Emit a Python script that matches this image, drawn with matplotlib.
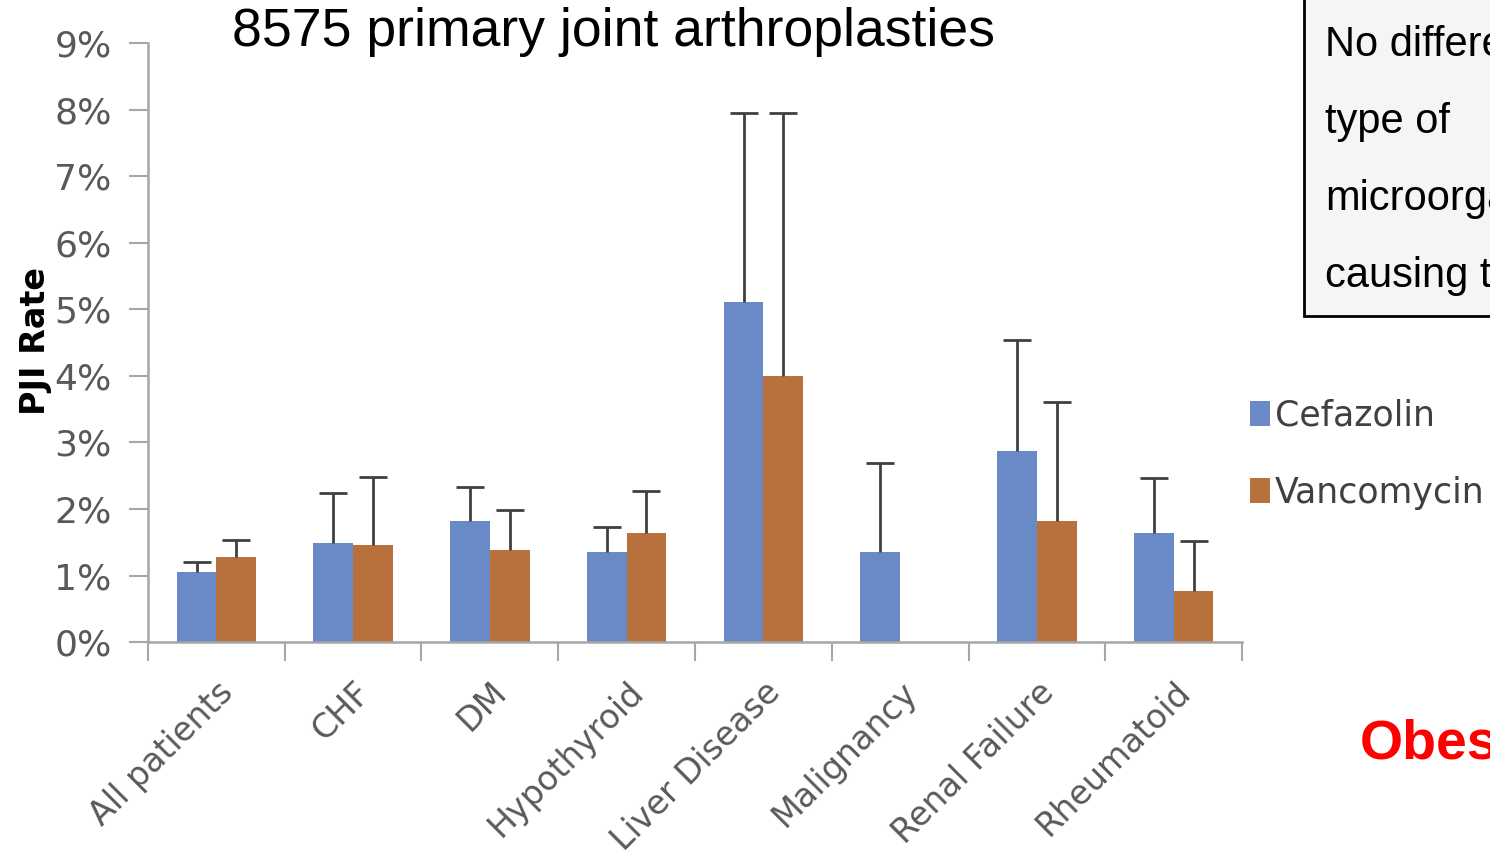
import numpy as np
import matplotlib
matplotlib.use("Agg")
import matplotlib.pyplot as plt
from matplotlib.patches import Rectangle

categories = ["All patients", "CHF", "DM", "Hypothyroid", "Liver Disease",
              "Malignancy", "Renal Failure", "Rheumatoid"]
cefazolin = [1.05, 1.49, 1.82, 1.35, 5.11, 1.35, 2.87, 1.64]
cefazolin_err_top = [1.20, 2.24, 2.33, 1.73, 7.95, 2.69, 4.54, 2.46]
vancomycin = [1.28, 1.46, 1.38, 1.64, 4.00, np.nan, 1.82, 0.77]
vancomycin_err_top = [1.53, 2.48, 1.98, 2.27, 7.95, np.nan, 3.61, 1.52]
yticks = list(range(0, 10))

blue = "#6a8ac7"
orange = "#b8703c"
grey_txt = "#595959"

fig = plt.figure(figsize=(14.9, 8.55), dpi=100)
ax = fig.add_axes([0.0993, 0.249, 0.7343, 0.7007])

x = np.arange(len(categories))
w = 0.29
cef = np.array(cefazolin)
van = np.array(vancomycin)
cef_up = np.array(cefazolin_err_top) - cef
van_up = np.array(vancomycin_err_top) - van

ax.bar(x - w / 2, cef, w, color=blue, label="Cefazolin")
ax.bar(x + w / 2, van, w, color=orange, label="Vancomycin")
for xs, vals, up in [(x - w / 2, cef, cef_up), (x + w / 2, van, van_up)]:
    eb = ax.errorbar(xs, vals, yerr=[np.zeros_like(vals), up], fmt="none",
                     ecolor="#404040", elinewidth=2, capsize=10, capthick=2)
    # hide the cap at the bar top (lower end, zero error)
    eb[1][0].set_visible(False)

ax.set_xlim(-0.5, len(categories) - 0.5)
ax.set_ylim(0, 9)
ax.set_yticks(yticks)
ax.set_yticklabels([f"{t}%" for t in yticks], fontsize=26, color=grey_txt,
                   family="DejaVu Sans")
ax.set_xticks(x)
ax.set_xticklabels(categories, rotation=45, ha="right", rotation_mode="anchor",
                   fontsize=24, color=grey_txt, family="DejaVu Sans")
ax.set_xticks(np.arange(-0.5, len(categories)), minor=True)
ax.tick_params(axis="x", which="major", length=0, pad=24)
ax.tick_params(axis="x", which="minor", length=14, width=1.5, color="#a6a6a6")
ax.tick_params(axis="y", length=14, width=1.5, color="#a6a6a6", pad=12)

for s in ["top", "right"]:
    ax.spines[s].set_visible(False)
for s in ["left", "bottom"]:
    ax.spines[s].set_color("#a6a6a6")
    ax.spines[s].set_linewidth(1.8)

ax.set_ylabel("PJI Rate", fontsize=24, fontweight="bold", family="DejaVu Sans")
ax.yaxis.set_label_coords(-0.088, 0.503)

fig.text(0.156, 0.962, "8575 primary joint arthroplasties", fontsize=38.5,
         family="Liberation Sans", va="center", ha="left")

leg = ax.legend(loc="upper left", bbox_to_anchor=(0.995, 0.43), frameon=False,
                fontsize=25, handlelength=0.55, handleheight=0.75,
                handletextpad=0.15, labelspacing=1.25, borderaxespad=0)
for t in leg.get_texts():
    t.set_color("#404040")

# annotation box top right (clipped by figure edge, as in the reference)
fig.patches.append(Rectangle((1304 / 1490, 1 - 316 / 855), 0.2, 0.4,
                             transform=fig.transFigure, facecolor="#f5f5f5",
                             edgecolor="black", linewidth=2, zorder=0))
box_lines = ["No difference in", "type of", "microorganisms", "causing the"]
for i, line in enumerate(box_lines):
    fig.text(1325 / 1490, 1 - (45 + 77 * i) / 855, line, fontsize=30,
             family="Liberation Sans", va="center", ha="left")

fig.text(1360 / 1490, 1 - 745 / 855, "Obesity", fontsize=40, fontweight="bold",
         color="#ff0000", family="Liberation Sans", va="center", ha="left")

fig.savefig("out.png", dpi=100)
